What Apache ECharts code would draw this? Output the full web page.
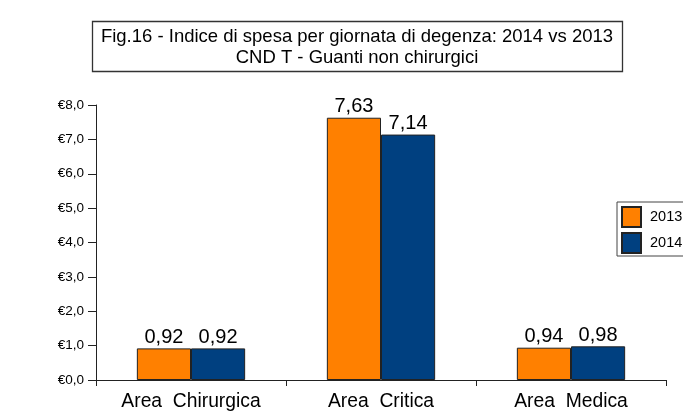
<!DOCTYPE html>
<html><head><meta charset="utf-8">
<script src="https://cdn.jsdelivr.net/npm/echarts@6/dist/echarts.min.js"></script>
<style>html,body{margin:0;padding:0;background:#fff}#c{width:683px;height:412px}</style>
</head><body><div id="c"></div>
<script>
const categories = ['Area  Chirurgica', 'Area  Critica', 'Area  Medica'];
const seriesNames = ['2013', '2014'];
const values2013 = [0.92, 7.63, 0.94];
const values2014 = [0.92, 7.14, 0.98];
const yTicks = [0, 1, 2, 3, 4, 5, 6, 7, 8];
const titleLines = ['Fig.16 - Indice di spesa per giornata di degenza: 2014 vs 2013', 'CND T - Guanti non chirurgici'];

const FONT = 'Liberation Sans, Arial, sans-serif';
const fmt = v => v.toFixed(2).replace('.', ',');
const chart = echarts.init(document.getElementById('c'), null, {renderer: 'canvas'});
chart.setOption({
  animation: false,
  backgroundColor: '#fff',
  graphic: [
    {type: 'rect', shape: {x: 92.5, y: 21.5, width: 530, height: 50},
      style: {fill: '#fff', stroke: '#333', lineWidth: 1.3}},
    {type: 'text', x: 357, y: 37, style: {text: titleLines[0], fontFamily: FONT, fontSize: 18.5, fill: '#000', align: 'center', verticalAlign: 'middle'}},
    {type: 'text', x: 357, y: 58, style: {text: titleLines[1], fontFamily: FONT, fontSize: 18.5, fill: '#000', align: 'center', verticalAlign: 'middle'}}
  ],
  legend: {
    orient: 'vertical', left: 617, top: 202,
    padding: [4, 6, 2, 4],
    itemGap: 4, itemWidth: 19, itemHeight: 20,
    borderColor: '#444', borderWidth: 1,
    icon: 'rect',
    textStyle: {fontFamily: FONT, fontSize: 14.5, color: '#000', padding: [0, 0, 0, 4]},
    data: seriesNames
  },
  grid: {left: 96, right: 17, top: 105, bottom: 32, containLabel: false},
  xAxis: {
    type: 'category', data: categories,
    axisLine: {lineStyle: {color: '#222', width: 1}},
    axisTick: {show: true, length: 6, lineStyle: {color: '#222'}},
    axisLabel: {fontFamily: FONT, fontSize: 19.3, color: '#000', margin: 12}
  },
  yAxis: {
    type: 'value', min: 0, max: 8, interval: 1,
    axisLine: {show: true, lineStyle: {color: '#222', width: 1}},
    axisTick: {show: true, length: 8, lineStyle: {color: '#222'}},
    splitLine: {show: false},
    axisLabel: {fontFamily: FONT, fontSize: 13.5, color: '#000', margin: 12,
      formatter: v => '€' + v.toFixed(1).replace('.', ',')}
  },
  series: [
    {name: seriesNames[0], type: 'bar', data: values2013, barGap: '0%', barCategoryGap: '43%',
      itemStyle: {color: '#FF8000', borderColor: '#222', borderWidth: 1},
      label: {show: true, position: 'top', distance: 1, fontFamily: FONT, fontSize: 20, color: '#000', formatter: p => fmt(p.value)}},
    {name: seriesNames[1], type: 'bar', data: values2014, barGap: '0%', barCategoryGap: '43%',
      itemStyle: {color: '#004080', borderColor: '#222', borderWidth: 1},
      label: {show: true, position: 'top', distance: 1, fontFamily: FONT, fontSize: 20, color: '#000', formatter: p => fmt(p.value)}}
  ]
});
</script></body></html>
